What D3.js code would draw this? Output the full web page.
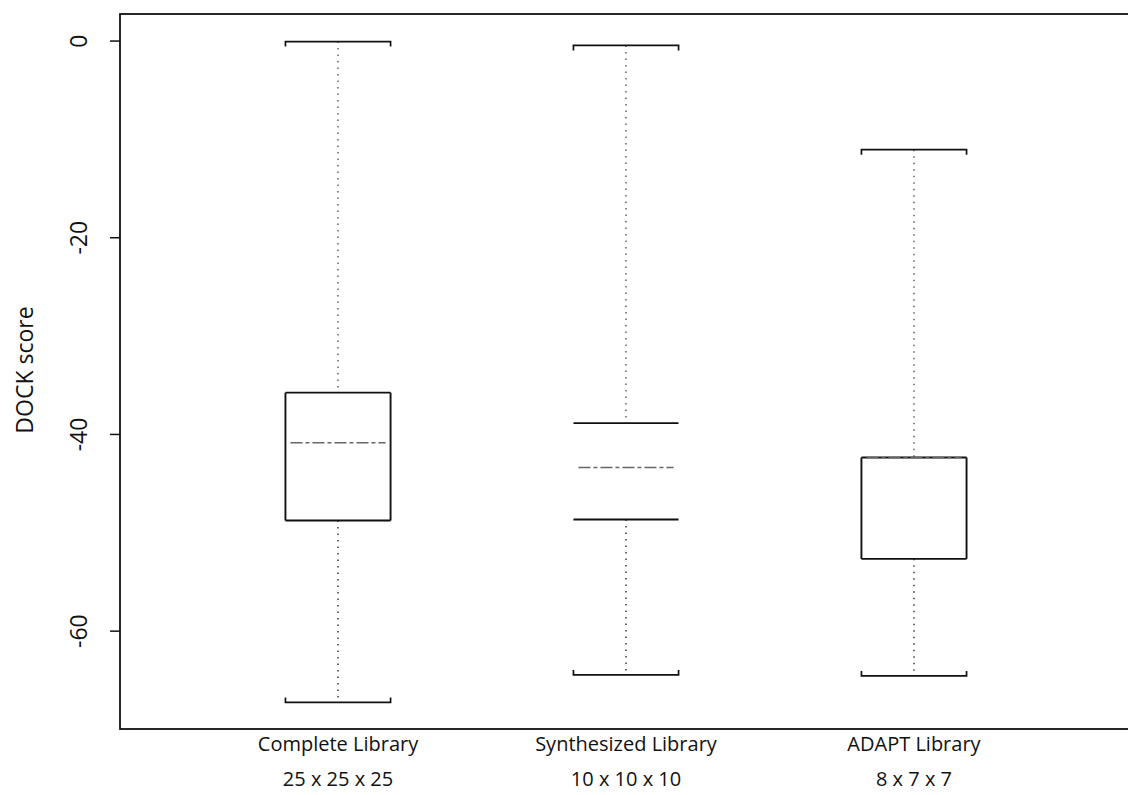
<!DOCTYPE html>
<html>
<head>
<meta charset="utf-8">
<script src="https://cdn.jsdelivr.net/npm/d3@7"></script>
<style>
  html, body { margin: 0; padding: 0; background: #fff; }
  svg { display: block; }
  text { font-family: "Open Sans", "Liberation Sans", Arial, sans-serif; fill: #111; }
</style>
</head>
<body>
<svg id="chart" width="1128" height="795"></svg>
<script>
// Library names and their building-block dimensions
const categories = ["Complete Library", "Synthesized Library", "ADAPT Library"];
const libSizes = ["25 x 25 x 25", "10 x 10 x 10", "8 x 7 x 7"];

// Five-number summaries of DOCK score per library
const whiskerHigh = [-0.1, -0.5, -11.1];
const upperQuartile = [-35.8, -38.9, -42.4];
const medians = [-40.9, -43.4, -42.4];
const lowerQuartile = [-48.8, -48.7, -52.7];
const whiskerLow = [-67.3, -64.5, -64.6];

// Axis ticks
const yTicks = [0, -20, -40, -60];
const yTickLabels = ["0", "-20", "-40", "-60"];

// Per-box drawing style for the vertical box edges
const boxSideStroke = ["#111", "none", "#111"];

const svg = d3.select("#chart");

const plot = { left: 120, right: 1132, top: 14, bottom: 729 };

const y = d3.scaleLinear()
  .domain([-70.0, 2.7])
  .range([plot.bottom, plot.top]);

const x = d3.scaleLinear()
  .domain([0.243, 3.757])
  .range([plot.left, plot.right]);

const boxHalf = (x(1.365) - x(1)) / 2;

// Frame around the plotting region
svg.append("rect")
  .attr("x", plot.left)
  .attr("y", plot.top)
  .attr("width", plot.right - plot.left)
  .attr("height", plot.bottom - plot.top)
  .attr("fill", "none")
  .attr("stroke", "#111")
  .attr("stroke-width", 1.8);

// Y axis ticks and rotated labels
const yAxis = d3.axisLeft(y)
  .tickValues(yTicks)
  .tickSize(10)
  .tickFormat((d, i) => yTickLabels[i]);

const yg = svg.append("g")
  .attr("transform", `translate(${plot.left},0)`)
  .call(yAxis);

yg.select(".domain").remove();
yg.selectAll(".tick line").attr("stroke", "#111").attr("stroke-width", 1.5);
yg.selectAll(".tick text")
  .attr("x", null)
  .attr("dy", null)
  .attr("transform", "translate(-33,0) rotate(-90)")
  .attr("text-anchor", "middle")
  .attr("font-size", 23)
  .attr("font-family", "'Liberation Sans', Arial, sans-serif")
  .attr("fill", "#111");

// Y axis title
svg.append("text")
  .attr("transform", `translate(33,370) rotate(-90)`)
  .attr("text-anchor", "middle")
  .attr("font-size", 23)
  .text("DOCK score");

// Category labels under the plot (two lines)
const xLab = svg.append("g");
categories.forEach((c, i) => {
  const t = xLab.append("text")
    .attr("x", x(i + 1))
    .attr("text-anchor", "middle")
    .attr("font-size", 20);
  t.append("tspan").attr("x", x(i + 1)).attr("y", 751).text(c);
  t.append("tspan").attr("x", x(i + 1)).attr("y", 786).text(libSizes[i]);
});

// Boxplots
const boxes = svg.append("g");
categories.forEach((c, i) => {
  const cx = x(i + 1);
  const g = boxes.append("g");

  // whiskers
  g.append("line")
    .attr("x1", cx).attr("x2", cx)
    .attr("y1", y(whiskerHigh[i])).attr("y2", y(upperQuartile[i]))
    .attr("stroke", "#555").attr("stroke-width", 1.4)
    .attr("stroke-dasharray", "1.5,5");
  g.append("line")
    .attr("x1", cx).attr("x2", cx)
    .attr("y1", y(lowerQuartile[i])).attr("y2", y(whiskerLow[i]))
    .attr("stroke", "#444").attr("stroke-width", 1.6)
    .attr("stroke-dasharray", "1.5,5");

  // whisker caps with short hooks toward the box
  [[whiskerHigh[i], 5], [whiskerLow[i], -5]].forEach(([v, hook]) => {
    g.append("path")
      .attr("d", `M${cx - boxHalf},${y(v) + hook}V${y(v)}H${cx + boxHalf}V${y(v) + hook}`)
      .attr("fill", "none")
      .attr("stroke", "#111").attr("stroke-width", 1.7);
  });

  // box: horizontal edges
  [upperQuartile[i], lowerQuartile[i]].forEach(v => {
    g.append("line")
      .attr("x1", cx - boxHalf).attr("x2", cx + boxHalf)
      .attr("y1", y(v)).attr("y2", y(v))
      .attr("stroke", "#111").attr("stroke-width", 1.9);
  });
  // box: vertical edges
  [cx - boxHalf, cx + boxHalf].forEach(xx => {
    g.append("line")
      .attr("x1", xx).attr("x2", xx)
      .attr("y1", y(upperQuartile[i])).attr("y2", y(lowerQuartile[i]))
      .attr("stroke", boxSideStroke[i]).attr("stroke-width", 1.9);
  });

  // median
  g.append("line")
    .attr("x1", cx - boxHalf + 5).attr("x2", cx + boxHalf - 5)
    .attr("y1", y(medians[i])).attr("y2", y(medians[i]))
    .attr("stroke", "#666").attr("stroke-width", 1.5)
    .attr("stroke-dasharray", "12,3,4,3");
});
</script>
</body>
</html>
